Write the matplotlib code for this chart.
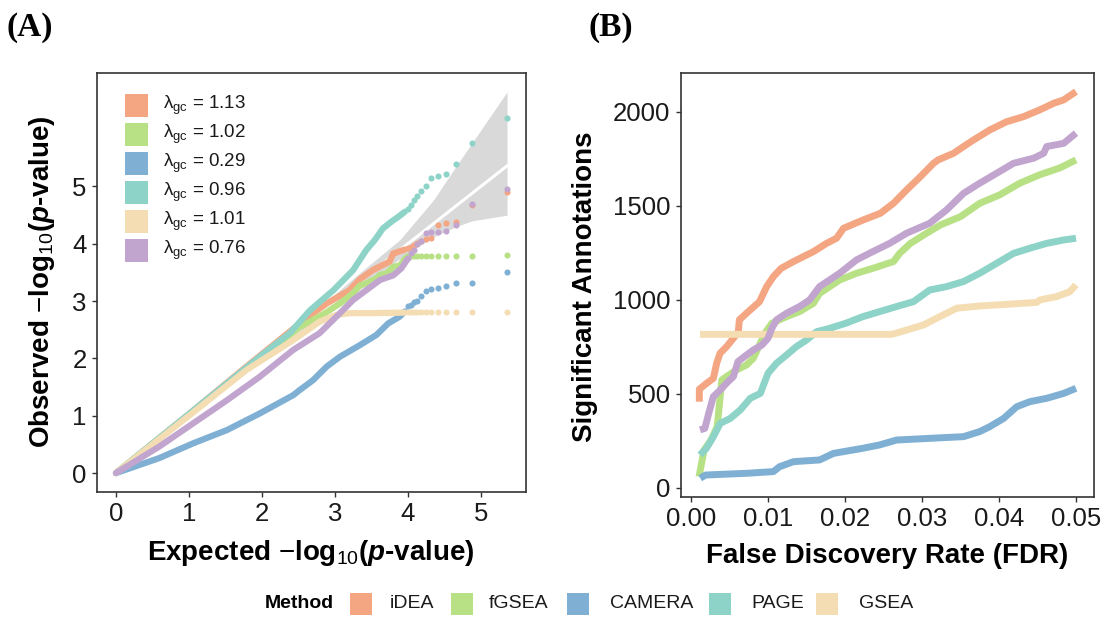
import matplotlib
matplotlib.use('Agg')
import matplotlib.pyplot as plt
from matplotlib.patches import Rectangle

plt.rcParams['font.family'] = ['Liberation Sans', 'DejaVu Sans']
plt.rcParams['mathtext.fontset'] = 'custom'
plt.rcParams['mathtext.rm'] = 'Liberation Sans'
plt.rcParams['mathtext.it'] = 'Liberation Sans:italic:bold'
plt.rcParams['mathtext.bf'] = 'Liberation Sans:bold'

# ---------------- data ----------------
methods = ['iDEA', 'fGSEA', 'CAMERA', 'PAGE', 'GSEA']
colors = ['#F4A582', '#B8E186', '#7FB0D4', '#8DD3C7', '#F5DDB3', '#C2A5CF']
lambda_gc = ['1.13', '1.02', '0.29', '0.96', '1.01', '0.76']

# Panel A: QQ plot (dense body read as knots, sparse tail read as points)
tail_x = [5.36, 4.88, 4.66, 4.52, 4.41, 4.32, 4.25, 4.18, 4.13, 4.08, 4.04, 4.00]

qq_idea_x = [0, 1.01, 1.79, 2.52, 2.70, 2.89, 3.20, 3.34, 3.52, 3.75, 3.80, 3.96]
qq_idea_y = [0, 1.04, 1.86, 2.61, 2.79, 2.96, 3.19, 3.38, 3.54, 3.69, 3.83, 3.90]
tail_idea_y = [4.90, 4.68, 4.38, 4.36, 4.33, 4.11, 4.08, 4.05, 4.02, 3.98, 3.95, 3.92]

qq_fgsea_x = [0, 1.00, 1.80, 2.52, 2.66, 2.89, 3.07, 3.25, 3.34, 3.43, 3.57, 3.62, 3.71, 3.80, 3.89, 3.96, 4.00]
qq_fgsea_y = [0, 1.02, 1.83, 2.55, 2.64, 2.81, 2.96, 3.14, 3.27, 3.31, 3.40, 3.46, 3.48, 3.60, 3.62, 3.74, 3.78]
tail_fgsea_y = [3.80, 3.78, 3.78, 3.78, 3.78, 3.78, 3.78, 3.78, 3.78, 3.78, 3.78, 3.78]

qq_camera_x = [0, 0.59, 1.06, 1.52, 1.97, 2.43, 2.52, 2.70, 2.89, 3.07, 3.11, 3.34, 3.57, 3.73, 3.89, 3.96]
qq_camera_y = [0, 0.26, 0.52, 0.75, 1.04, 1.36, 1.45, 1.62, 1.86, 2.03, 2.06, 2.23, 2.41, 2.61, 2.73, 2.82]
tail_camera_y = [3.51, 3.31, 3.31, 3.27, 3.23, 3.21, 3.18, 3.09, 3.01, 2.98, 2.93, 2.91]

qq_page_x = [0, 1.00, 1.97, 2.38, 2.66, 2.98, 3.25, 3.43, 3.55, 3.66, 3.78, 3.89, 3.96]
qq_page_y = [0, 1.03, 2.03, 2.44, 2.84, 3.19, 3.54, 3.89, 4.07, 4.27, 4.39, 4.49, 4.56]
tail_page_y = [6.20, 5.76, 5.40, 5.21, 5.18, 5.14, 5.00, 4.92, 4.83, 4.76, 4.68, 4.60]

qq_gsea_x = [0, 1.00, 1.79, 2.43, 2.79, 3.02, 3.20, 3.50, 3.96]
qq_gsea_y = [0, 1.00, 1.80, 2.32, 2.64, 2.76, 2.79, 2.79, 2.80]
tail_gsea_y = [2.81] * 12

qq_other_x = [0, 0.59, 1.06, 1.52, 1.97, 2.43, 2.79, 3.07, 3.25, 3.43, 3.62, 3.80, 3.91, 4.00]
qq_other_y = [0, 0.46, 0.87, 1.27, 1.68, 2.15, 2.44, 2.79, 3.02, 3.19, 3.37, 3.45, 3.57, 3.74]
tail_other_y = [4.95, 4.70, 4.33, 4.22, 4.21, 4.20, 4.18, 4.05, 4.00, 3.90, 3.84, 3.76]

band_x = [0.0, 2.0, 2.5, 3.0, 3.34, 3.89, 4.35, 4.66, 4.88, 5.36]
band_lo = [0.0, 1.97, 2.45, 2.90, 3.20, 3.74, 4.12, 4.30, 4.40, 4.50]
band_hi = [0.0, 2.03, 2.57, 3.12, 3.49, 4.07, 4.76, 5.35, 5.76, 6.65]
diag_x = [0.0, 5.36]

# Panel B: significant annotations vs FDR
fdr_idea_x = [0.00108, 0.00108, 0.00204, 0.0029, 0.00333, 0.00377, 0.00463, 0.0055, 0.00615, 0.00628, 0.0072,
              0.0089, 0.00983, 0.0107, 0.0117, 0.0133, 0.0159, 0.0176, 0.0189, 0.0198, 0.0224, 0.0246, 0.0263,
              0.0280, 0.0298, 0.0315, 0.0321, 0.0341, 0.0354, 0.0367, 0.0388, 0.0410, 0.0432, 0.0453, 0.0471,
              0.0484, 0.0500]
fdr_idea_y = [459, 525, 557, 583, 663, 716, 752, 796, 831, 894, 929, 991, 1071, 1124, 1168, 1204, 1257, 1301,
              1328, 1381, 1426, 1461, 1514, 1585, 1656, 1727, 1745, 1780, 1816, 1851, 1904, 1948, 1975, 2011,
              2046, 2064, 2108]

fdr_fgsea_x = [0.00104, 0.0017, 0.0026, 0.0034, 0.0040, 0.0046, 0.0059, 0.0072, 0.0081, 0.0090, 0.0096,
               0.0105, 0.0124, 0.0141, 0.0159, 0.0167, 0.0193, 0.0215, 0.0236, 0.0263, 0.0271, 0.0285, 0.0306,
               0.0324, 0.0350, 0.0375, 0.0401, 0.0427, 0.0453, 0.0479, 0.0500]
fdr_fgsea_y = [60, 202, 255, 326, 574, 592, 628, 654, 690, 770, 823, 876, 911, 938, 982, 1035, 1106, 1142,
               1168, 1204, 1248, 1301, 1355, 1399, 1443, 1514, 1559, 1621, 1666, 1702, 1745]

fdr_camera_x = [0.0012, 0.0019, 0.0072, 0.0107, 0.0115, 0.0133, 0.0167, 0.0185, 0.0223, 0.0245, 0.0267,
                0.0310, 0.0354, 0.0375, 0.0388, 0.0406, 0.0423, 0.0440, 0.0462, 0.0484, 0.0500]
fdr_camera_y = [52, 69, 78, 87, 113, 140, 149, 184, 211, 229, 255, 264, 273, 300, 326, 370, 432, 459, 477,
                503, 530]

fdr_page_x = [0.00117, 0.0020, 0.0029, 0.0038, 0.0051, 0.0064, 0.0077, 0.0090, 0.0100, 0.0111, 0.0124,
              0.0137, 0.0150, 0.0163, 0.0180, 0.0201, 0.0223, 0.0245, 0.0267, 0.0289, 0.0310, 0.0332, 0.0354,
              0.0375, 0.0397, 0.0419, 0.0440, 0.0462, 0.0484, 0.0500]
fdr_page_y = [176, 211, 273, 344, 370, 415, 477, 503, 610, 663, 707, 752, 787, 831, 849, 876, 911, 938, 965,
              991, 1053, 1071, 1098, 1142, 1195, 1248, 1275, 1301, 1319, 1328]

fdr_gsea_x = [0.00117, 0.0261, 0.0280, 0.0302, 0.0323, 0.0345, 0.0375, 0.0419, 0.0449, 0.0453, 0.0475,
              0.0492, 0.0500]
fdr_gsea_y = [817, 817, 840, 867, 911, 956, 968, 979, 987, 1000, 1018, 1044, 1080]

fdr_other_x = [0.00117, 0.0018, 0.0023, 0.0029, 0.0038, 0.0046, 0.0055, 0.0061, 0.0072, 0.0081, 0.0092,
               0.0100, 0.0105, 0.0111, 0.0124, 0.0141, 0.0154, 0.0167, 0.0193, 0.0215, 0.0236, 0.0258, 0.0280,
               0.0310, 0.0332, 0.0354, 0.0375, 0.0397, 0.0419, 0.0445, 0.0458, 0.0462, 0.0484, 0.0500]
fdr_other_y = [309, 317, 397, 486, 521, 557, 592, 672, 707, 734, 760, 796, 849, 894, 929, 965, 1000, 1071,
               1142, 1213, 1257, 1301, 1355, 1408, 1479, 1567, 1621, 1674, 1727, 1754, 1780, 1816, 1833, 1887]

qa_x_ticks = [0, 1, 2, 3, 4, 5]
qa_y_ticks = [0, 1, 2, 3, 4, 5]
fb_x_ticks = [0.00, 0.01, 0.02, 0.03, 0.04, 0.05]
fb_y_ticks = [0, 500, 1000, 1500, 2000]

# ---------------- figure ----------------
W, H = 1109, 618
fig = plt.figure(figsize=(W / 100, H / 100), dpi=100)


def fx(px):
    return px / W


def fy(py):
    return 1 - py / H


def style_axes(ax):
    for s in ax.spines.values():
        s.set_color('#333333')
        s.set_linewidth(1.2)
    ax.tick_params(length=3.5, width=1.0, color='#333333', labelsize=18.5,
                   labelcolor='#1a1a1a', pad=4)


axA = fig.add_axes([fx(97), fy(492), fx(526) - fx(97), fy(73) - fy(492)])
axB = fig.add_axes([fx(681), fy(497), fx(1094) - fx(681), fy(73) - fy(497)])

# Panel A
axA.fill_between(band_x, band_lo, band_hi, color='#D9D9D9', lw=0, zorder=1)
axA.plot(diag_x, diag_x, color='white', lw=2.2, zorder=2)
qq_series = [
    (qq_idea_x, qq_idea_y, tail_idea_y),
    (qq_fgsea_x, qq_fgsea_y, tail_fgsea_y),
    (qq_camera_x, qq_camera_y, tail_camera_y),
    (qq_page_x, qq_page_y, tail_page_y),
    (qq_gsea_x, qq_gsea_y, tail_gsea_y),
    (qq_other_x, qq_other_y, tail_other_y),
]
for i, (bx, by, ty) in enumerate(qq_series):
    axA.plot(bx, by, color=colors[i], lw=4.5, solid_capstyle='round', solid_joinstyle='round', zorder=3 + i)
    axA.plot(tail_x, ty, 'o', color=colors[i], ms=4.4, mew=0, zorder=3 + i)

axA.set_xlim(-0.26, 5.62)
axA.set_ylim(-0.33, 6.98)
axA.set_xticks(qa_x_ticks)
axA.set_yticks(qa_y_ticks)
style_axes(axA)

# Panel B
fdr_series = [
    (fdr_idea_x, fdr_idea_y),
    (fdr_fgsea_x, fdr_fgsea_y),
    (fdr_camera_x, fdr_camera_y),
    (fdr_page_x, fdr_page_y),
    (fdr_gsea_x, fdr_gsea_y),
    (fdr_other_x, fdr_other_y),
]
for i, (x, y) in enumerate(fdr_series):
    axB.plot(x, y, color=colors[i], lw=5.0, solid_capstyle='butt', solid_joinstyle='round', zorder=3 + i)
axB.set_xlim(-0.0013, 0.05234)
axB.set_ylim(-48, 2207)
axB.set_xticks(fb_x_ticks)
axB.set_xticklabels([f'{v:.2f}' for v in fb_x_ticks])
axB.set_yticks(fb_y_ticks)
style_axes(axB)

# axis titles
lab_kw = dict(fontsize=20, fontweight='bold', color='black')
fig.text(fx(311), fy(560), 'Expected $-\\mathbf{log}_{\\mathrm{10}}$($\\mathit{p}$-value)',
         ha='center', va='baseline', **lab_kw)
fig.text(fx(42), fy(282), 'Observed $-\\mathbf{log}_{\\mathrm{10}}$($\\mathit{p}$-value)',
         ha='center', va='center', rotation=90, **lab_kw)
fig.text(fx(887), fy(563), 'False Discovery Rate (FDR)', ha='center', va='baseline', **lab_kw)
fig.text(fx(585), fy(287), 'Significant Annotations', ha='center', va='center', rotation=90, **lab_kw)

# panel tags
fig.text(fx(6), fy(36), '(A)', fontsize=24, fontweight='bold', family='Liberation Serif', va='baseline')
fig.text(fx(589), fy(36), '(B)', fontsize=24, fontweight='bold', family='Liberation Serif', va='baseline')

# panel A inner legend
for i, lam in enumerate(lambda_gc):
    cy = 105.7 + 29 * i
    fig.patches.append(Rectangle((fx(125), fy(cy + 11.5)), 23 / W, 23 / H, transform=fig.transFigure,
                                 facecolor=colors[i], edgecolor='none'))
    fig.text(fx(163), fy(cy), '$\\mathrm{\u03bb}_{\\mathrm{gc}}$ = ' + lam, fontsize=13.5,
             va='center', ha='left', color='#1a1a1a')

# bottom legend
fig.text(fx(265), fy(604), 'Method', fontsize=14, fontweight='bold', va='center', ha='left')
sq_left = [350, 451, 567, 709, 816]
txt_left = [390, 489, 610, 751, 859]
for i, m in enumerate(methods):
    fig.patches.append(Rectangle((fx(sq_left[i]), fy(615)), 22 / W, 22 / H, transform=fig.transFigure,
                                 facecolor=colors[i], edgecolor='none'))
    fig.text(fx(txt_left[i]), fy(604), m, fontsize=14, va='center', ha='left', color='#1a1a1a')

fig.savefig('out.png', dpi=100)
